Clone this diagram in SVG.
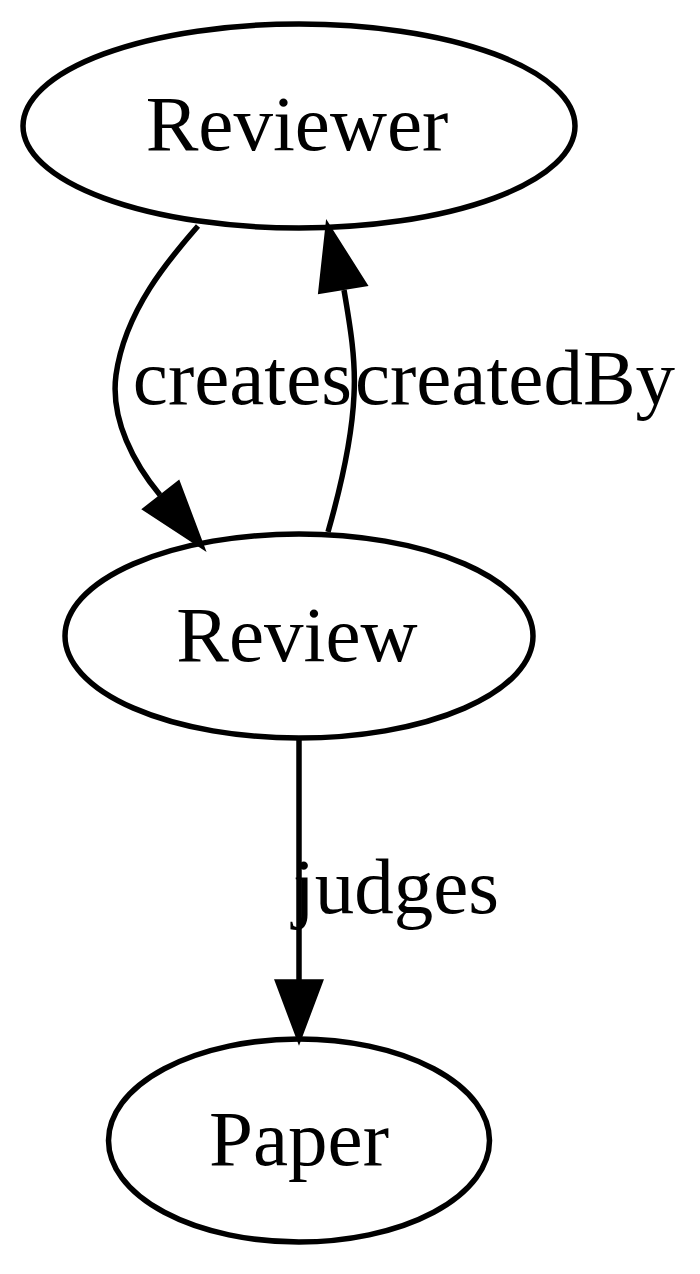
<svg xmlns="http://www.w3.org/2000/svg" width="700" height="1274" viewBox="0 0 700 1274">
<style>
.node ellipse{fill:none;stroke:#000;stroke-width:5.5}
.label{font-family:"Liberation Serif","Times New Roman",serif;font-size:79px;fill:#000;text-anchor:middle}
.edge path{fill:none;stroke:#000;stroke-width:5.5}
.edge polygon{fill:#000;stroke:#000;stroke-width:5.5}
</style>
<rect width="700" height="1274" fill="#fff"/>
<g id="connectors">
<g class="edge" id="e-creates">
<path d="M198,226 C170,258 125,310 116,375 C110,420 135,465 160,495"/>
<polygon points="178,484 201,545 146,509"/>
<text class="label" x="242.5" y="404">creates</text>
</g>
<g class="edge" id="e-createdBy">
<path d="M328,532 C340,490 352,440 354,395 C356,360 350,325 344,290"/>
<polygon points="364,284 328,227 321,291"/>
<text class="label" x="515" y="404">createdBy</text>
</g>
<g class="edge" id="e-judges">
<path d="M299,739 L299,982"/>
<polygon points="320,982 299,1038 278,982"/>
<text class="label" x="396" y="913">judges</text>
</g>
</g>
<g class="node" id="n-Reviewer">
<ellipse cx="299" cy="126" rx="276" ry="102"/>
<text class="label" x="297" y="150">Reviewer</text>
</g>
<g class="node" id="n-Review">
<ellipse cx="299" cy="636" rx="234" ry="102"/>
<text class="label" x="297" y="661">Review</text>
</g>
<g class="node" id="n-Paper">
<ellipse cx="299" cy="1140.5" rx="190.5" ry="101.5"/>
<text class="label" x="299" y="1165">Paper</text>
</g>
</svg>
